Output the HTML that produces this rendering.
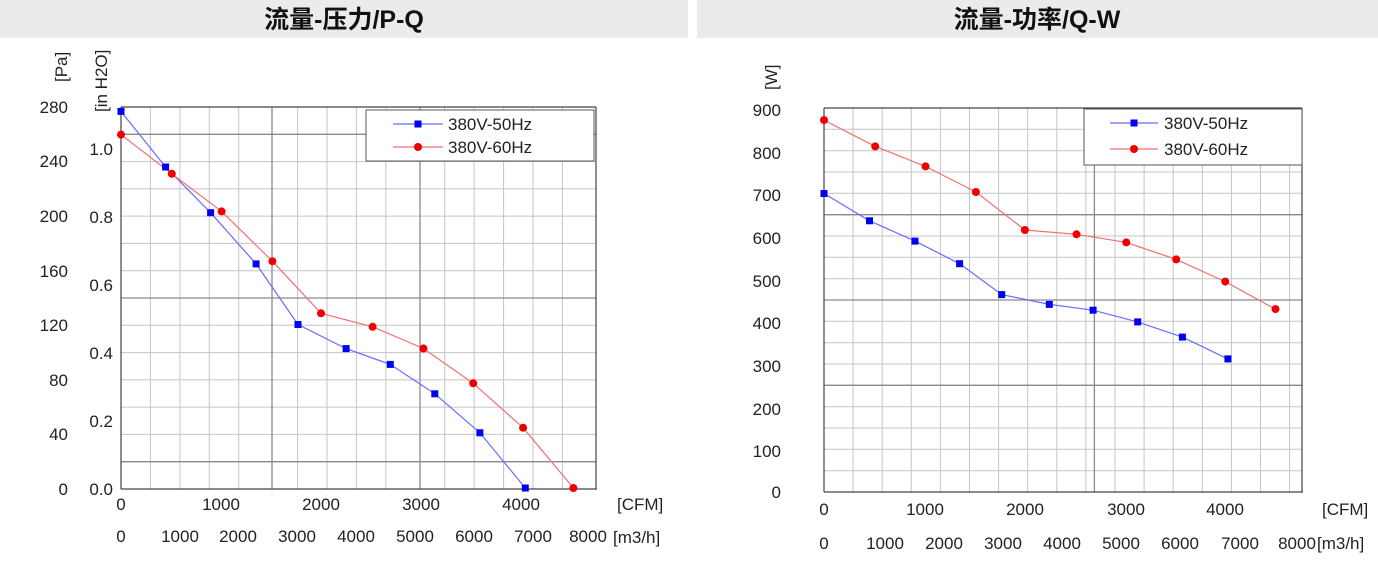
<!DOCTYPE html>
<html><head><meta charset="utf-8"><style>
body{margin:0;background:#fff;width:1378px;height:566px;overflow:hidden}
svg{display:block;font-family:"Liberation Sans","Noto Sans CJK SC",sans-serif}
</style></head><body>
<svg width="1378" height="566" viewBox="0 0 1378 566" xmlns="http://www.w3.org/2000/svg">
<rect x="0" y="0" width="688" height="38" fill="#ebebeb"/>
<rect x="697" y="0" width="681" height="38" fill="#ebebeb"/>
<text x="344" y="28" text-anchor="middle" font-size="25" font-weight="bold" fill="#111">流量-压力/P-Q</text>
<text x="1037" y="28" text-anchor="middle" font-size="25" font-weight="bold" fill="#111">流量-功率/Q-W</text>

<!-- LEFT CHART -->
<g stroke="#c4c4c4" stroke-width="1">
<line x1="150.4" y1="107" x2="150.4" y2="489"/><line x1="179.9" y1="107" x2="179.9" y2="489"/>
<line x1="209.3" y1="107" x2="209.3" y2="489"/><line x1="238.7" y1="107" x2="238.7" y2="489"/>
<line x1="297.6" y1="107" x2="297.6" y2="489"/><line x1="327" y1="107" x2="327" y2="489"/>
<line x1="356.4" y1="107" x2="356.4" y2="489"/><line x1="385.9" y1="107" x2="385.9" y2="489"/>
<line x1="444.7" y1="107" x2="444.7" y2="489"/><line x1="474.1" y1="107" x2="474.1" y2="489"/>
<line x1="503.6" y1="107" x2="503.6" y2="489"/><line x1="533" y1="107" x2="533" y2="489"/>
<line x1="562.4" y1="107" x2="562.4" y2="489"/>
<line x1="121" y1="461.7" x2="596" y2="461.7"/><line x1="121" y1="434.4" x2="596" y2="434.4"/>
<line x1="121" y1="407.1" x2="596" y2="407.1"/><line x1="121" y1="379.9" x2="596" y2="379.9"/>
<line x1="121" y1="352.6" x2="596" y2="352.6"/><line x1="121" y1="325.3" x2="596" y2="325.3"/>
<line x1="121" y1="270.7" x2="596" y2="270.7"/><line x1="121" y1="243.4" x2="596" y2="243.4"/>
<line x1="121" y1="216.1" x2="596" y2="216.1"/><line x1="121" y1="188.9" x2="596" y2="188.9"/>
<line x1="121" y1="161.6" x2="596" y2="161.6"/>
</g>
<g stroke="#8a8a8a" stroke-width="1.3">
<line x1="272" y1="107" x2="272" y2="489"/><line x1="420" y1="107" x2="420" y2="489"/>
<line x1="121" y1="134.3" x2="596" y2="134.3"/><line x1="121" y1="298" x2="596" y2="298"/>
<line x1="121" y1="461.7" x2="596" y2="461.7"/>
</g>
<g stroke="#444" stroke-width="1.2" fill="none">
<line x1="121" y1="107" x2="121" y2="489"/><line x1="121" y1="489" x2="597" y2="489"/>
<line x1="596" y1="107" x2="596" y2="489"/><line x1="121" y1="107" x2="596" y2="107"/>
</g>
<polyline fill="none" stroke="#6b6bff" stroke-width="1.2" points="121,111.4 165.6,167 210.6,212.7 256.1,263.9 298,324.5 346.1,348.6 390.3,364.4 434.8,393.8 479.9,432.8 525.3,488"/>
<polyline fill="none" stroke="#f07070" stroke-width="1.2" points="121,134.6 171.8,173.8 221.6,211.4 272.4,261.2 321,313.3 372.6,326.8 423.4,348.5 473.2,383.3 523.1,427.7 573.4,488"/>
<g fill="#0000ee">
<rect x="117.5" y="107.9" width="7" height="7"/><rect x="162.1" y="163.5" width="7" height="7"/>
<rect x="207.1" y="209.2" width="7" height="7"/><rect x="252.6" y="260.4" width="7" height="7"/>
<rect x="294.5" y="321" width="7" height="7"/><rect x="342.6" y="345.1" width="7" height="7"/>
<rect x="386.8" y="360.9" width="7" height="7"/><rect x="431.3" y="390.3" width="7" height="7"/>
<rect x="476.4" y="429.3" width="7" height="7"/><rect x="521.8" y="484.5" width="7" height="7"/>
</g>
<g fill="#ee0000">
<circle cx="121" cy="134.6" r="4"/><circle cx="171.8" cy="173.8" r="4"/><circle cx="221.6" cy="211.4" r="4"/>
<circle cx="272.4" cy="261.2" r="4"/><circle cx="321" cy="313.3" r="4"/><circle cx="372.6" cy="326.8" r="4"/>
<circle cx="423.4" cy="348.5" r="4"/><circle cx="473.2" cy="383.3" r="4"/><circle cx="523.1" cy="427.7" r="4"/>
<circle cx="573.4" cy="488" r="4"/>
</g>
<rect x="366" y="110" width="228" height="51" fill="#fff" stroke="#555" stroke-width="1"/>
<line x1="393" y1="124" x2="443" y2="124" stroke="#6b6bff" stroke-width="1.2"/><rect x="414.5" y="120.5" width="7" height="7" fill="#0000ee"/>
<line x1="393" y1="147" x2="443" y2="147" stroke="#f07070" stroke-width="1.2"/><circle cx="418" cy="147" r="4" fill="#ee0000"/>
<g font-size="17" fill="#222">
<text x="448" y="130">380V-50Hz</text><text x="448" y="153">380V-60Hz</text>
</g>
<g font-size="17" fill="#222" text-anchor="end">
<text x="68" y="113">280</text><text x="68" y="167">240</text><text x="68" y="222">200</text>
<text x="68" y="277">160</text><text x="68" y="331">120</text><text x="68" y="386">80</text>
<text x="68" y="440">40</text><text x="68" y="495">0</text>
<text x="113" y="155">1.0</text><text x="113" y="223">0.8</text><text x="113" y="291">0.6</text>
<text x="113" y="359">0.4</text><text x="113" y="427">0.2</text><text x="113" y="495">0.0</text>
</g>
<g font-size="17" fill="#222" text-anchor="middle">
<text x="121" y="510">0</text><text x="221" y="510">1000</text><text x="321" y="510">2000</text>
<text x="421" y="510">3000</text><text x="521" y="510">4000</text>
<text x="121" y="542">0</text><text x="180" y="542">1000</text><text x="238" y="542">2000</text>
<text x="297" y="542">3000</text><text x="356" y="542">4000</text><text x="415" y="542">5000</text>
<text x="474" y="542">6000</text><text x="533" y="542">7000</text><text x="588" y="542">8000</text>
</g>
<g font-size="17" fill="#222">
<text x="617" y="510">[CFM]</text><text x="613" y="543">[m3/h]</text>
<text transform="translate(67,82) rotate(-90)">[Pa]</text>
<text transform="translate(107,112) rotate(-90)">[in H2O]</text>
</g>

<!-- RIGHT CHART -->
<g stroke="#c4c4c4" stroke-width="1">
<line x1="853.1" y1="108" x2="853.1" y2="492"/><line x1="882.2" y1="108" x2="882.2" y2="492"/>
<line x1="911.3" y1="108" x2="911.3" y2="492"/><line x1="940.4" y1="108" x2="940.4" y2="492"/>
<line x1="969.5" y1="108" x2="969.5" y2="492"/><line x1="998.6" y1="108" x2="998.6" y2="492"/>
<line x1="1027.7" y1="108" x2="1027.7" y2="492"/><line x1="1056.8" y1="108" x2="1056.8" y2="492"/>
<line x1="1085.9" y1="108" x2="1085.9" y2="492"/><line x1="1115" y1="108" x2="1115" y2="492"/>
<line x1="1144.1" y1="108" x2="1144.1" y2="492"/><line x1="1173.2" y1="108" x2="1173.2" y2="492"/>
<line x1="1202.3" y1="108" x2="1202.3" y2="492"/><line x1="1231.4" y1="108" x2="1231.4" y2="492"/>
<line x1="1260.5" y1="108" x2="1260.5" y2="492"/><line x1="1289.6" y1="108" x2="1289.6" y2="492"/>
<line x1="824" y1="470.7" x2="1302" y2="470.7"/><line x1="824" y1="449.3" x2="1302" y2="449.3"/>
<line x1="824" y1="428" x2="1302" y2="428"/><line x1="824" y1="406.7" x2="1302" y2="406.7"/>
<line x1="824" y1="385.3" x2="1302" y2="385.3"/><line x1="824" y1="364" x2="1302" y2="364"/>
<line x1="824" y1="342.7" x2="1302" y2="342.7"/><line x1="824" y1="321.3" x2="1302" y2="321.3"/>
<line x1="824" y1="300" x2="1302" y2="300"/><line x1="824" y1="278.7" x2="1302" y2="278.7"/>
<line x1="824" y1="257.3" x2="1302" y2="257.3"/><line x1="824" y1="236" x2="1302" y2="236"/>
<line x1="824" y1="214.7" x2="1302" y2="214.7"/><line x1="824" y1="193.3" x2="1302" y2="193.3"/>
<line x1="824" y1="172" x2="1302" y2="172"/><line x1="824" y1="150.7" x2="1302" y2="150.7"/>
<line x1="824" y1="129.3" x2="1302" y2="129.3"/>
</g>
<g stroke="#8a8a8a" stroke-width="1.3">
<line x1="1094.4" y1="108" x2="1094.4" y2="492"/>
<line x1="824" y1="214.7" x2="1302" y2="214.7"/><line x1="824" y1="300" x2="1302" y2="300"/>
<line x1="824" y1="385.3" x2="1302" y2="385.3"/>
</g>
<g stroke="#444" stroke-width="1.2">
<line x1="824" y1="108" x2="824" y2="492"/><line x1="824" y1="492" x2="1303" y2="492"/>
<line x1="1302" y1="108" x2="1302" y2="492"/><line x1="824" y1="108" x2="1302" y2="108"/>
</g>
<polyline fill="none" stroke="#6b6bff" stroke-width="1.2" points="824,193.5 869.5,220.8 915,241.1 959.6,263.7 1001.7,294.6 1049.3,304.4 1093.1,310.2 1137.7,321.9 1182.4,337.1 1227.9,358.9"/>
<polyline fill="none" stroke="#f07070" stroke-width="1.2" points="824,120.1 875.2,146.4 925.5,166.4 975.9,192 1024.9,230 1076.5,234.3 1126.3,242.4 1176.2,259.4 1225.2,281.6 1275.5,309.1"/>
<g fill="#0000ee">
<rect x="820.5" y="190" width="7" height="7"/><rect x="866" y="217.3" width="7" height="7"/>
<rect x="911.5" y="237.6" width="7" height="7"/><rect x="956.1" y="260.2" width="7" height="7"/>
<rect x="998.2" y="291.1" width="7" height="7"/><rect x="1045.8" y="300.9" width="7" height="7"/>
<rect x="1089.6" y="306.7" width="7" height="7"/><rect x="1134.2" y="318.4" width="7" height="7"/>
<rect x="1178.9" y="333.6" width="7" height="7"/><rect x="1224.4" y="355.4" width="7" height="7"/>
</g>
<g fill="#ee0000">
<circle cx="824" cy="120.1" r="4"/><circle cx="875.2" cy="146.4" r="4"/><circle cx="925.5" cy="166.4" r="4"/>
<circle cx="975.9" cy="192" r="4"/><circle cx="1024.9" cy="230" r="4"/><circle cx="1076.5" cy="234.3" r="4"/>
<circle cx="1126.3" cy="242.4" r="4"/><circle cx="1176.2" cy="259.4" r="4"/><circle cx="1225.2" cy="281.6" r="4"/>
<circle cx="1275.5" cy="309.1" r="4"/>
</g>
<rect x="1084" y="109" width="218" height="56" fill="#fff" stroke="#555" stroke-width="1"/>
<line x1="1110" y1="123" x2="1158" y2="123" stroke="#6b6bff" stroke-width="1.2"/><rect x="1130.5" y="119.5" width="7" height="7" fill="#0000ee"/>
<line x1="1110" y1="149" x2="1158" y2="149" stroke="#f07070" stroke-width="1.2"/><circle cx="1134" cy="149" r="4" fill="#ee0000"/>
<g font-size="17" fill="#222">
<text x="1164" y="129">380V-50Hz</text><text x="1164" y="155">380V-60Hz</text>
</g>
<g font-size="17" fill="#222" text-anchor="end">
<text x="781" y="116">900</text><text x="781" y="159">800</text><text x="781" y="201">700</text>
<text x="781" y="244">600</text><text x="781" y="287">500</text><text x="781" y="329">400</text>
<text x="781" y="372">300</text><text x="781" y="415">200</text><text x="781" y="457">100</text>
<text x="781" y="498">0</text>
</g>
<g font-size="17" fill="#222" text-anchor="middle">
<text x="824" y="515">0</text><text x="925" y="515">1000</text><text x="1025" y="515">2000</text>
<text x="1126" y="515">3000</text><text x="1225" y="515">4000</text>
<text x="824" y="549">0</text><text x="885" y="549">1000</text><text x="944" y="549">2000</text>
<text x="1003" y="549">3000</text><text x="1062" y="549">4000</text><text x="1121" y="549">5000</text>
<text x="1180" y="549">6000</text><text x="1240" y="549">7000</text><text x="1297" y="549">8000</text>
</g>
<g font-size="17" fill="#222">
<text x="1322" y="515">[CFM]</text><text x="1317" y="549">[m3/h]</text>
<text transform="translate(777,90) rotate(-90)">[W]</text>
</g>
</svg>
</body></html>
